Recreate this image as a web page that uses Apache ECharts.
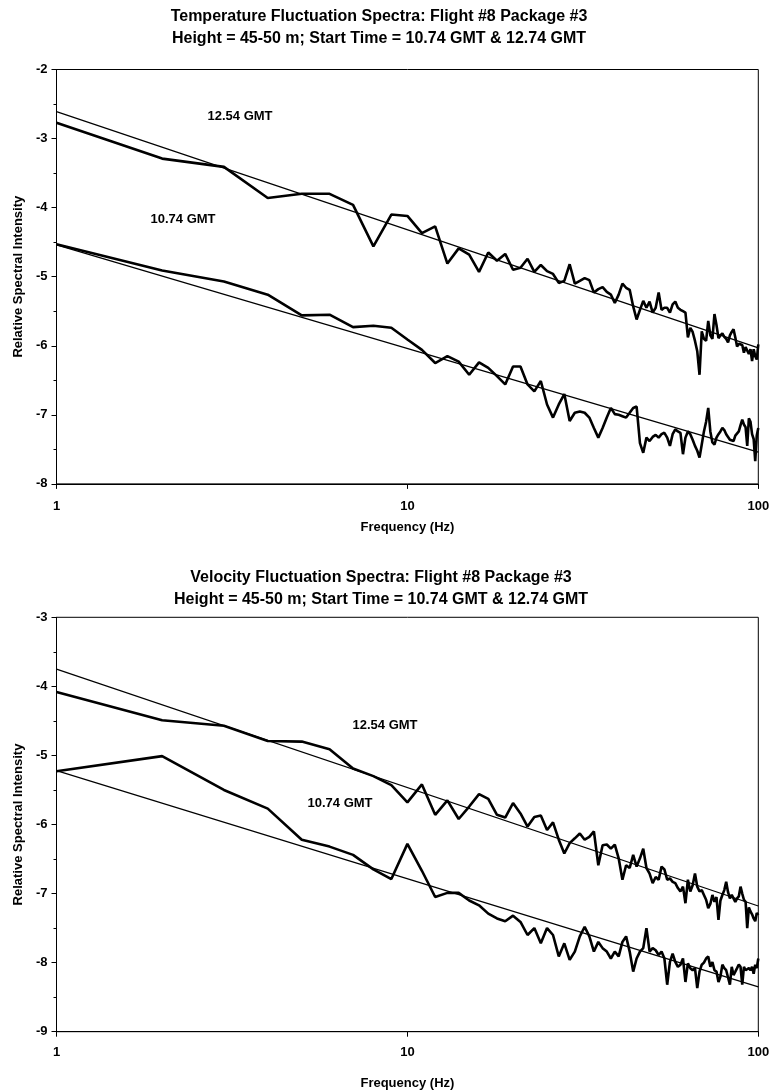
<!DOCTYPE html>
<html>
<head>
<meta charset="utf-8">
<script src="https://cdn.jsdelivr.net/npm/echarts@6/dist/echarts.min.js"></script>
<style>
  html, body { margin: 0; padding: 0; background: #fff; }
  #chart { width: 782px; height: 1092px; }
</style>
</head>
<body>
<div id="chart"></div>
<script>
// frequency (Hz) of each spectral estimate
const FREQ = [
  1, 2, 3, 4, 5, 6, 7, 8, 9, 10, 11, 12, 13, 14, 15, 16, 17, 18, 19, 20,
  21, 22, 23, 24, 25, 26, 27, 28, 29, 30, 31, 32, 33, 34, 35, 36, 37, 38, 39, 40,
  41, 42, 43, 44, 45, 46, 47, 48, 49, 50, 51, 52, 53, 54, 55, 56, 57, 58, 59, 60,
  61, 62, 63, 64, 65, 66, 67, 68, 69, 70, 71, 72, 73, 74, 75, 76, 77, 78, 79, 80,
  81, 82, 83, 84, 85, 86, 87, 88, 89, 90, 91, 92, 93, 94, 95, 96, 97, 98, 99, 100
]

// temperature spectra (log10 relative intensity)
const TEMP_1254 = [
  -2.77, -3.29, -3.41, -3.86, -3.80, -3.80, -3.96, -4.56, -4.10, -4.12,
  -4.37, -4.27, -4.81, -4.59, -4.68, -4.93, -4.65, -4.77, -4.67, -4.90,
  -4.87, -4.74, -4.93, -4.83, -4.92, -4.96, -5.09, -5.06, -4.82, -5.10,
  -5.06, -5.02, -5.05, -5.23, -5.18, -5.15, -5.22, -5.26, -5.38, -5.26,
  -5.10, -5.16, -5.19, -5.43, -5.62, -5.48, -5.35, -5.45, -5.36, -5.52,
  -5.45, -5.23, -5.48, -5.45, -5.45, -5.52, -5.40, -5.36, -5.45, -5.48,
  -5.50, -5.52, -5.88, -5.74, -5.80, -5.93, -6.08, -6.42, -5.79, -5.90,
  -5.93, -5.64, -5.85, -5.90, -5.54, -5.70, -5.89, -5.85, -5.82, -5.87,
  -5.90, -5.95, -5.85, -5.80, -5.76, -5.88, -6.01, -5.97, -5.96, -5.99,
  -6.10, -6.02, -6.03, -6.12, -6.05, -6.22, -6.05, -6.15, -6.20, -5.98
]
const TEMP_1074 = [
  -4.53, -4.91, -5.07, -5.26, -5.56, -5.55, -5.73, -5.71, -5.74, -5.91,
  -6.06, -6.25, -6.15, -6.23, -6.42, -6.24, -6.32, -6.44, -6.56, -6.30,
  -6.30, -6.56, -6.66, -6.51, -6.85, -7.04, -6.85, -6.70, -7.09, -6.97,
  -6.95, -6.97, -7.04, -7.19, -7.33, -7.19, -7.04, -6.90, -6.99, -7.00,
  -7.02, -7.04, -6.97, -6.90, -6.88, -7.41, -7.55, -7.33, -7.38, -7.32,
  -7.29, -7.33, -7.28, -7.26, -7.33, -7.45, -7.28, -7.21, -7.24, -7.26,
  -7.57, -7.33, -7.24, -7.28, -7.36, -7.45, -7.52, -7.62, -7.43, -7.24,
  -7.10, -6.90, -7.24, -7.40, -7.43, -7.33, -7.28, -7.24, -7.19, -7.22,
  -7.28, -7.32, -7.36, -7.34, -7.38, -7.30, -7.28, -7.24, -7.15, -7.07,
  -7.14, -7.18, -7.45, -7.05, -7.10, -7.28, -7.35, -7.67, -7.30, -7.19
]

// velocity spectra
const VEL_1254 = [
  -4.08, -4.49, -4.57, -4.79, -4.80, -4.91, -5.19, -5.30, -5.43, -5.68,
  -5.42, -5.86, -5.65, -5.92, -5.74, -5.56, -5.63, -5.86, -5.90, -5.69,
  -5.84, -6.03, -5.89, -5.87, -6.08, -5.97, -6.22, -6.42, -6.27, -6.20,
  -6.13, -6.22, -6.18, -6.10, -6.59, -6.30, -6.29, -6.35, -6.29, -6.49,
  -6.80, -6.59, -6.63, -6.44, -6.61, -6.49, -6.35, -6.63, -6.71, -6.85,
  -6.76, -6.80, -6.61, -6.65, -6.80, -6.78, -6.83, -6.85, -6.92, -6.97,
  -6.90, -7.14, -6.80, -6.97, -6.88, -6.71, -6.90, -6.97, -6.95, -7.02,
  -7.09, -7.21, -7.15, -7.02, -7.12, -7.05, -7.38, -7.10, -7.02, -6.95,
  -6.83, -6.98, -7.07, -7.02, -7.04, -7.12, -7.07, -7.04, -6.90, -7.00,
  -7.09, -7.12, -7.50, -7.20, -7.26, -7.30, -7.36, -7.40, -7.28, -7.31
]
const VEL_1074 = [
  -5.23, -5.01, -5.50, -5.77, -6.22, -6.32, -6.44, -6.65, -6.79, -6.28,
  -6.67, -7.05, -6.99, -6.99, -7.10, -7.17, -7.29, -7.36, -7.40, -7.32,
  -7.41, -7.60, -7.50, -7.72, -7.50, -7.60, -7.91, -7.72, -7.96, -7.84,
  -7.62, -7.48, -7.62, -7.84, -7.70, -7.79, -7.84, -7.94, -7.84, -7.91,
  -7.70, -7.62, -7.84, -8.13, -7.94, -7.84, -7.79, -7.50, -7.84, -7.79,
  -7.82, -7.89, -7.84, -7.94, -8.32, -7.99, -7.87, -7.99, -8.06, -8.03,
  -7.94, -8.28, -8.01, -8.08, -8.11, -8.08, -8.37, -8.13, -8.03, -8.00,
  -7.94, -7.91, -8.06, -7.99, -8.11, -8.13, -8.28, -8.20, -8.03, -8.08,
  -8.11, -8.13, -8.32, -8.06, -8.18, -8.13, -8.08, -8.03, -8.06, -8.32,
  -8.06, -8.11, -8.13, -8.08, -8.11, -8.06, -8.16, -8.03, -8.08, -7.94
]

// straight fits, value at 1 Hz and 100 Hz
const FIT_FREQ = [1, 100]
const TEMP_FIT_1254 = [-2.61, -6.03]
const TEMP_FIT_1074 = [-4.54, -7.54]
const VEL_FIT_1254 = [-3.75, -7.18]
const VEL_FIT_1074 = [-5.22, -8.35]

const X_TICKS = ['1', '10', '100']

const FONT = 'Liberation Sans, Arial, sans-serif'
const pairs = (xs, ys) => xs.map((x, i) => [x, ys[i]])

function xAxisFor(gridIndex, nameGap, margin) {
  return {
    type: 'log', logBase: 10, min: 1, max: 100, gridIndex,
    name: 'Frequency (Hz)', nameLocation: 'middle', nameGap,
    nameTextStyle: { color: '#000', fontFamily: FONT, fontWeight: 'bold', fontSize: 13 },
    axisLine: { lineStyle: { color: '#000', width: 1 } },
    axisTick: { show: true, inside: false, length: 5, lineStyle: { color: '#000' } },
    minorTick: { show: false },
    splitLine: { show: false },
    axisLabel: {
      color: '#000', fontFamily: FONT, fontWeight: 'bold', fontSize: 13, margin,
      formatter: v => X_TICKS.find(t => Number(t) === Math.round(v)) || ''
    }
  }
}

function yAxisFor(gridIndex, min, max) {
  return {
    type: 'value', min, max, interval: 1, gridIndex,
    name: 'Relative Spectral Intensity', nameLocation: 'middle', nameGap: 30,
    nameTextStyle: { color: '#000', fontFamily: FONT, fontWeight: 'bold', fontSize: 13 },
    axisLine: { show: true, lineStyle: { color: '#000', width: 1 } },
    axisTick: { show: true, inside: false, length: 5, lineStyle: { color: '#000' } },
    minorTick: { show: true, splitNumber: 2, length: 3, lineStyle: { color: '#000' } },
    splitLine: { show: false },
    axisLabel: { color: '#000', fontFamily: FONT, fontWeight: 'bold', fontSize: 13, margin: 9 }
  }
}

function spectrum(idx, ys) {
  return {
    type: 'line', xAxisIndex: idx, yAxisIndex: idx, data: pairs(FREQ, ys),
    symbol: 'none', lineStyle: { color: '#000', width: 2.6 }, z: 3
  }
}
function fit(idx, ys) {
  return {
    type: 'line', xAxisIndex: idx, yAxisIndex: idx, data: pairs(FIT_FREQ, ys),
    symbol: 'none', lineStyle: { color: '#000', width: 1.2 }, z: 2
  }
}

const titleStyle = { color: '#000', fontFamily: FONT, fontWeight: 'bold', fontSize: 16, lineHeight: 21.5 }
const gmtStyle = { fill: '#000', font: 'bold 13px ' + FONT, textAlign: 'center', textVerticalAlign: 'middle' }

const chart = echarts.init(document.getElementById('chart'))
chart.setOption({
  animation: false,
  backgroundColor: '#fff',
  title: [
    { text: 'Temperature Fluctuation Spectra: Flight #8 Package #3\nHeight = 45-50 m; Start Time = 10.74 GMT & 12.74 GMT',
      left: 374, top: 1, textAlign: 'center', textStyle: titleStyle },
    { text: 'Velocity Fluctuation Spectra: Flight #8 Package #3\nHeight = 45-50 m; Start Time = 10.74 GMT & 12.74 GMT',
      left: 376, top: 562, textAlign: 'center', textStyle: titleStyle }
  ],
  grid: [
    { left: 56.5, right: 23.7, top: 69.5, height: 414.4, show: true, borderColor: '#000', borderWidth: 1 },
    { left: 56.5, right: 23.7, top: 617.3, height: 414.4, show: true, borderColor: '#000', borderWidth: 1 }
  ],
  xAxis: [xAxisFor(0, 37, 16), xAxisFor(1, 45, 14)],
  yAxis: [yAxisFor(0, -8, -2), yAxisFor(1, -9, -3)],
  series: [
    fit(0, TEMP_FIT_1254), fit(0, TEMP_FIT_1074),
    spectrum(0, TEMP_1254), spectrum(0, TEMP_1074),
    fit(1, VEL_FIT_1254), fit(1, VEL_FIT_1074),
    spectrum(1, VEL_1254), spectrum(1, VEL_1074)
  ],
  graphic: [
    { type: 'text', x: 240, y: 116, style: Object.assign({ text: '12.54 GMT' }, gmtStyle) },
    { type: 'text', x: 183, y: 219, style: Object.assign({ text: '10.74 GMT' }, gmtStyle) },
    { type: 'text', x: 385, y: 725, style: Object.assign({ text: '12.54 GMT' }, gmtStyle) },
    { type: 'text', x: 340, y: 803, style: Object.assign({ text: '10.74 GMT' }, gmtStyle) }
  ]
})
</script>
</body>
</html>
